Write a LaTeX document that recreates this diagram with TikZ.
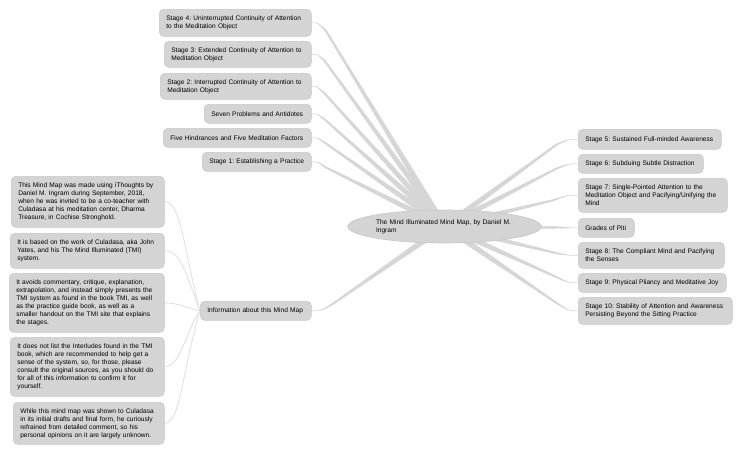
\documentclass[tikz,border=0pt]{standalone}
\usepackage{fontspec}
\setmainfont{Liberation Sans}
\usetikzlibrary{shapes.geometric,backgrounds,calc}

\definecolor{boxfill}{HTML}{D4D4D4}
\definecolor{boxline}{HTML}{C8C8C8}
\definecolor{branchgray}{HTML}{D6D6D6}
\definecolor{twiggray}{HTML}{E0E0E0}

\tikzset{
  topic/.style 2 args={draw=boxline,fill=boxfill,rounded corners=4.5pt,line width=.6pt,
    anchor=north west,inner sep=0pt,font=\fontsize{6.6}{8}\selectfont\frenchspacing,align=left,
    minimum width=#1,text width=#1-14pt,minimum height=#2},
  branch/.style={fill=branchgray,draw=branchgray,line width=.5pt,line join=round},
  twig/.style={draw=twiggray,line width=.9pt}
}

\begin{document}
\begin{tikzpicture}[x=1pt,y=-1pt]

\useasboundingbox (0,0) rectangle (750,455);

\node[ellipse,draw=boxline,fill=boxfill,line width=.6pt,inner sep=0pt,minimum width=193pt,minimum height=33pt,
  text width=137pt,align=left,font=\fontsize{6.6}{8}\selectfont\frenchspacing] (root) at (444.5,226.5)
  {The Mind Illuminated Mind Map, by Daniel M.\\Ingram};

% left, upper
\node[topic={152pt}{27pt}] (stagefour) at (159,9) {Stage 4: Uninterrupted Continuity of Attention\\to the Meditation Object};
\node[topic={147pt}{26pt}] (stagethree) at (164,41) {Stage 3: Extended Continuity of Attention to\\Meditation Object};
\node[topic={151pt}{26pt}] (stagetwo) at (160,73) {Stage 2: Interrupted Continuity of Attention to\\Meditation Object};
\node[topic={107pt}{19pt}] (problems) at (204,104) {Seven Problems and Antidotes};
\node[topic={148pt}{19pt}] (hindrances) at (163,128) {Five Hindrances and Five Meditation Factors};
\node[topic={109pt}{19pt}] (stageone) at (202,152) {Stage 1: Establishing a Practice};
\node[topic={111pt}{19pt}] (info) at (200,301) {Information about this Mind Map};

% left, notes
\node[topic={153pt}{51pt}] (noteone) at (11,176) {This Mind Map was made using iThoughts by\\Daniel M. Ingram during September, 2018,\\when he was invited to be a co-teacher with\\Culadasa at his meditation center, Dharma\\Treasure, in Cochise Stronghold.};
\node[topic={154pt}{35pt}] (notetwo) at (10,233) {It is based on the work of Culadasa, aka John\\Yates, and his The Mind Illuminated (TMI)\\system.};
\node[topic={155pt}{59pt}] (notethree) at (9,273) {It avoids commentary, critique, explanation,\\extrapolation, and instead simply presents the\\TMI system as found in the book TMI, as well\\as the practice guide book, as well as a\\smaller handout on the TMI site that explains\\the stages.};
\node[topic={154pt}{59pt}] (notefour) at (10,337) {It does not list the Interludes found in the TMI\\book, which are recommended to help get a\\sense of the system, so, for those, please\\consult the original sources, as you should do\\for all of this information to confirm it for\\yourself.};
\node[topic={151pt}{42pt}] (notefive) at (13,402) {While this mind map was shown to Culadasa\\in its initial drafts and final form, he curiously\\refrained from detailed comment, so his\\personal opinions on it are largely unknown.};

% right
\node[topic={143pt}{20pt}] (stagefive) at (578,129) {Stage 5: Sustained Full-minded Awareness};
\node[topic={125pt}{19pt}] (stagesix) at (578,154) {Stage 6: Subduing Subtle Distraction};
\node[topic={149pt}{34pt}] (stageseven) at (578,178) {Stage 7: Single-Pointed Attention to the\\Meditation Object and Pacifying/Unifying the\\Mind};
\node[topic={56pt}{19pt}] (piti) at (578,218) {Grades of Piti};
\node[topic={146pt}{26pt}] (stageeight) at (578,242) {Stage 8: The Compliant Mind and Pacifying\\the Senses};
\node[topic={148pt}{19pt}] (stagenine) at (578,273) {Stage 9: Physical Pliancy and Meditative Joy};
\node[topic={154pt}{27pt}] (stageten) at (578,297) {Stage 10: Stability of Attention and Awareness\\Persisting Beyond the Sitting Practice};

\begin{scope}[on background layer]
  \foreach \nd/\side/\dx/\dy in {stagefour/east/14/7.5,stagethree/east/13/6.5,stagetwo/east/12/6,
      problems/east/14/6.5,hindrances/east/14/5.5,stageone/east/14/5.5,info/east/22/-7.5,
      stagefive/west/-21/5,stagesix/west/-21/4.5,stageseven/west/-25/5,piti/west/-18/-.3,
      stageeight/west/-21/-2,stagenine/west/-21/-5.5,stageten/west/-21/-7.5}{
    \coordinate (elbow) at ($(\nd.\side)+(\dx,\dy)$);
    \coordinate (bend) at ($(\nd.\side)+(\dx*0.45,0)$);
    \path[branch] ($(root.center)!3pt!90:(elbow)$) -- ($(elbow)!.7pt!-90:(root.center)$)
      .. controls (bend) .. (\nd.\side)
      .. controls (bend) .. ($(elbow)!.7pt!90:(root.center)$) -- ($(root.center)!3pt!-90:(elbow)$) -- cycle;
  }

  \draw[twig] (noteone.east) .. controls +(16,0) and +(-18,-70) .. (info.west);
  \draw[twig] (notetwo.east) .. controls +(16,0) and +(-16,-42) .. (info.west);
  \draw[twig] (notethree.east) .. controls +(14,0) and +(-14,-3) .. (info.west);
  \draw[twig] (notefour.east) .. controls +(16,0) and +(-14,20) .. (info.west);
  \draw[twig] (notefive.east) .. controls +(16,0) and +(-18,60) .. (info.west);
\end{scope}

\end{tikzpicture}
\end{document}
